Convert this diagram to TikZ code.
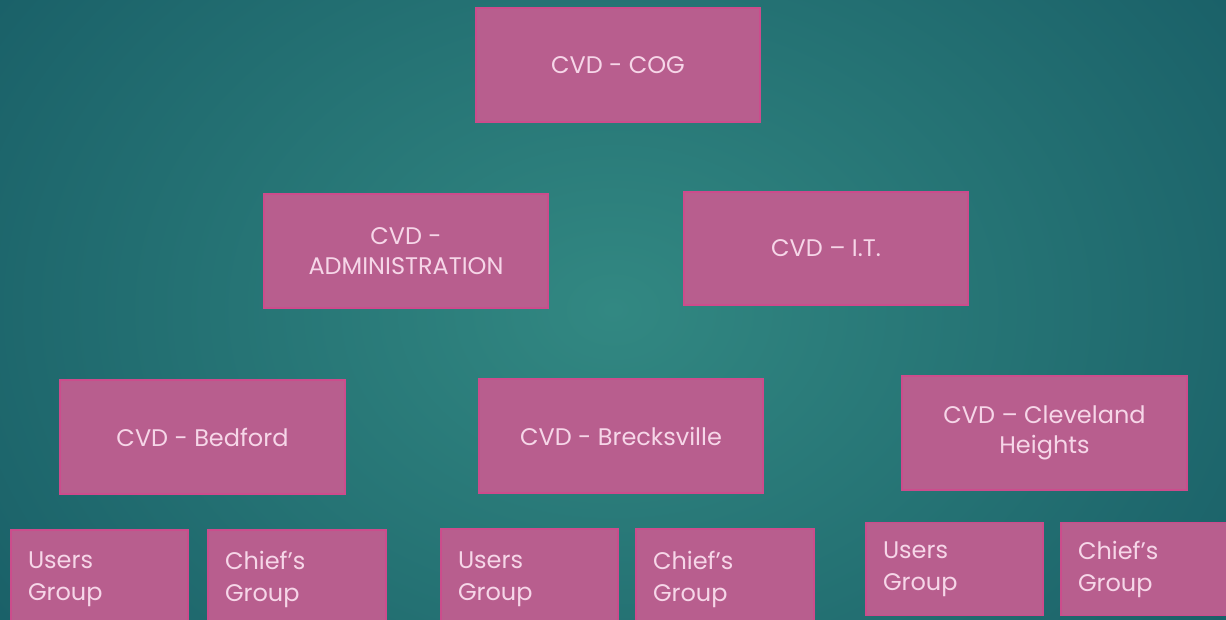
\documentclass[tikz,border=0pt]{standalone}
\usepackage{fontspec}
\setmainfont{Poppins}
\begin{document}
\begin{tikzpicture}[x=1pt,y=-1pt,
  pbox/.style={draw=boxedge, fill=boxpink, line width=1.6pt, inner sep=0pt,
    text=txtpink, align=center, font=\fontsize{24}{30}\selectfont},
  gbox/.style={draw=boxedge, fill=boxpink, line width=1.6pt, inner xsep=17pt, inner ysep=0pt,
    text=txtpink, align=left, font=\fontsize{24}{32}\selectfont}]
\definecolor{boxpink}{RGB}{184,94,142}
\definecolor{boxedge}{RGB}{204,76,140}
\definecolor{txtpink}{RGB}{246,214,232}
\definecolor{tealin}{RGB}{50,136,130}
\definecolor{tealout}{RGB}{22,90,100}
\useasboundingbox (0,0) rectangle (1226,619);
\clip (0,0) rectangle (1226,619);
\shade[inner color=tealin, outer color=tealout, shading=radial] (-250,-350) rectangle (1476,969);
% level 0
\node[pbox, minimum width=284, minimum height=114] (cog) at (618,65) {CVD - COG};
% level 1
\node[pbox, minimum width=284, minimum height=114] (adm) at (406,251) {CVD -\\ADMINISTRATION};
\node[pbox, minimum width=284, minimum height=113] (it) at (826,248.5) {CVD -- I.T.};
% level 2
\node[pbox, minimum width=285, minimum height=114] (bed) at (202.5,437) {CVD - Bedford};
\node[pbox, minimum width=284, minimum height=114] (bre) at (621,436) {CVD - Brecksville};
\node[pbox, minimum width=285, minimum height=114] (cle) at (1044.5,433) {CVD -- Cleveland\\Heights};
% level 3
\node[gbox, minimum width=177, minimum height=98, text width=143] (u1) at (99.5,579) {Users\\Group};
\node[gbox, minimum width=178, minimum height=98, text width=144] (c1) at (297,579) {Chief's\\Group};
\node[gbox, minimum width=177, minimum height=100, text width=143] (u2) at (529.5,579) {Users\\Group};
\node[gbox, minimum width=178, minimum height=100, text width=144] (c2) at (725,579) {Chief's\\Group};
\node[gbox, minimum width=177, minimum height=93, text width=143] (u3) at (954.5,569) {Users\\Group};
\node[gbox, minimum width=178, minimum height=93, text width=144] (c3) at (1150,569) {Chief's\\Group};
\end{tikzpicture}
\end{document}
